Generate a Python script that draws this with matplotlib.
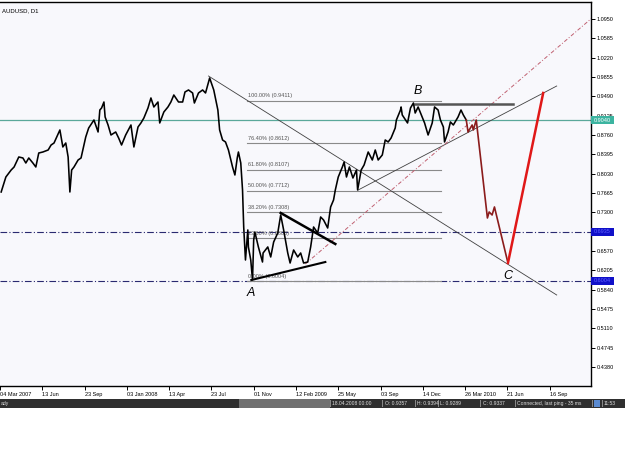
import matplotlib
matplotlib.use("Agg")
import matplotlib.pyplot as plt
from matplotlib.patches import Rectangle
from matplotlib.transforms import blended_transform_factory

plt.rcParams["font.family"] = ["Liberation Sans", "DejaVu Sans"]

# ---------------- data ----------------
symbol_title = "AUDUSD, D1"

bar_index = [2, 10, 19, 24, 32, 39, 44, 49, 56, 61, 66, 73, 82, 87, 92, 102, 107, 112, 116, 119,
             122, 126, 133, 138, 141, 146, 151, 160, 167, 170, 173, 177, 179, 184, 189, 197, 202, 207,
             214, 223, 228, 235, 240, 245, 252, 257, 262, 269, 272, 279, 286, 291, 296, 304, 311, 315,
             321, 328, 331, 338, 345, 350, 357, 364, 371, 374, 379, 384, 389, 396, 400, 404, 406, 410,
             413, 415, 418, 422, 423, 427, 430, 432, 434, 440, 447, 448, 456, 461, 466, 473, 478, 483,
             490, 494, 500, 507, 512, 517, 524, 529, 534, 541, 546, 551, 558, 563, 568, 571, 576, 583,
             586, 590, 595, 601, 607, 609, 615, 620, 627, 634, 639, 644, 651, 656, 661, 666, 673, 675,
             682, 683, 685, 694, 699, 704, 707, 712, 719, 723, 729, 736, 740, 746, 750, 755, 757, 763,
             767, 772, 780, 785, 789, 794]
close_price = [0.7684, 0.7967, 0.8099, 0.8156, 0.8345, 0.8326, 0.8231, 0.8326, 0.8231, 0.8156, 0.8420,
               0.8439, 0.8477, 0.8571, 0.8609, 0.8855, 0.8534, 0.8609, 0.8345, 0.7684, 0.8099, 0.8156,
               0.8288, 0.8326, 0.8477, 0.8722, 0.8892, 0.9043, 0.8817, 0.9232, 0.9270, 0.9383, 0.9100,
               0.8949, 0.8760, 0.8817, 0.8704, 0.8571, 0.8760, 0.8949, 0.8534, 0.8911, 0.8987, 0.9081,
               0.9270, 0.9459, 0.9289, 0.9383, 0.8987, 0.9194, 0.9289, 0.9383, 0.9515, 0.9383, 0.9383,
               0.9572, 0.9610, 0.9553, 0.9364, 0.9553, 0.9610, 0.9553, 0.9836, 0.9610, 0.9232, 0.8855,
               0.8666, 0.8628, 0.8477, 0.8156, 0.8005, 0.8326, 0.8439, 0.8231, 0.7722, 0.7023, 0.6400,
               0.6967, 0.6646, 0.6400, 0.6022, 0.6778, 0.6929, 0.6646, 0.6362, 0.6532, 0.6646, 0.6457,
               0.6740, 0.6910, 0.7250, 0.6967, 0.6532, 0.6343, 0.6589, 0.6457, 0.6532, 0.6343, 0.6362,
               0.6646, 0.7023, 0.6910, 0.7212, 0.7155, 0.7004, 0.7401, 0.7533, 0.7722, 0.7967, 0.8156,
               0.8250, 0.7967, 0.8156, 0.7948, 0.8099, 0.7722, 0.8099, 0.8194, 0.8439, 0.8288, 0.8477,
               0.8288, 0.8383, 0.8666, 0.8628, 0.8704, 0.8892, 0.9043, 0.9232, 0.9289, 0.9138, 0.8987,
               0.9270, 0.9364, 0.9175, 0.9289, 0.9100, 0.8987, 0.8760, 0.8987, 0.9289, 0.9232, 0.9043,
               0.8911, 0.8628, 0.8817, 0.9006, 0.8949, 0.9100, 0.9232, 0.9138, 0.9043]

# projected path (dark red down legs, bright red up leg)
proj_down_bars = [794, 797, 804, 806, 811, 830, 833, 838, 842, 865]
proj_down_price = [0.9043, 0.8817, 0.8949, 0.8855, 0.9043, 0.7193, 0.7306, 0.7250, 0.7401, 0.6343]
proj_up_bars = [865, 925]
proj_up_price = [0.6343, 0.9553]

# Fibonacci retracement
fib_labels = ["100.00%", "76.40%", "61.80%", "50.00%", "38.20%", "23.60%", "0.00%"]
fib_values = [0.9411, 0.8612, 0.8107, 0.7712, 0.7308, 0.6808, 0.6004]
fib_span = [420, 751]

# trend lines (bar, price) pairs
trend_down = ([355, 948], [0.9874, 0.5739])
trend_up = ([610, 948], [0.7722, 0.9685])
trend_dashdot = ([520, 1008], [0.6325, 1.0969])
tri_upper = ([478, 571], [0.7288, 0.6702])
tri_lower = ([428, 554], [0.6022, 0.6362])
b_top = ([707, 874], [0.9345, 0.9345])

# horizontal levels
teal_level = 0.9040
blue_levels = [0.6935, 0.6004]

# wave labels
wave_names = ["A", "B", "C"]
wave_bars = [427, 712, 865]
wave_prices = [0.5776, 0.9591, 0.6098]

# axes ticks
price_ticks = [1.0950, 1.0585, 1.0220, 0.9855, 0.9490, 0.9125, 0.8760, 0.8395, 0.8030, 0.7665,
               0.7300, 0.6935, 0.6570, 0.6205, 0.5840, 0.5475, 0.5110, 0.4745, 0.4380]
date_ticks = [0, 72, 144, 216, 288, 360, 432, 504, 576, 648, 720, 792, 864, 936]
date_labels = ["04 Mar 2007", "13 Jun", "23 Sep", "03 Jan 2008", "13 Apr", "23 Jul", "01 Nov",
               "12 Feb 2009", "25 May", "03 Sep", "14 Dec", "26 Mar 2010", "21 Jun", "16 Sep"]

status_texts = ["ady", "18.04.2008 00:00", "O: 0.9357", "H: 0.9394", "L: 0.9289", "C: 0.9337",
                "Connected, last ping - 35 ms", "11:53"]

# ---------------- figure ----------------
W, H = 625, 469
fig = plt.figure(figsize=(W / 100, H / 100), dpi=100)
fig.patch.set_facecolor("white")
FS = 4.0

def fx(px):
    return px / W

def fy(py):
    return 1 - py / H

ax = fig.add_axes([fx(0), fy(386), fx(591), (386 - 2) / H])
ax.set_facecolor("#f8f8fc")
ax.set_xlim(1.7, 1006.4)
ax.set_ylim(0.4021, 1.1271)

for s in ["top", "right", "bottom"]:
    ax.spines[s].set_color("black")
    ax.spines[s].set_linewidth(1.0)
ax.spines["left"].set_visible(False)

# horizontal levels
ax.axhline(teal_level, color="#5aa89a", lw=0.9, zorder=2)
for lv in blue_levels:
    ax.axhline(lv, color="#2a2a70", lw=0.8, ls=(0, (6, 2, 1, 2)), zorder=2)

# fib lines
for lab, val in zip(fib_labels, fib_values):
    ax.plot(fib_span, [val, val], color="#8a8a8a", lw=0.8, zorder=2)
    ax.text(fib_span[0] + 3, val + 0.004, f"{lab} ({val:.4f})", fontsize=FS,
            color="#555555", ha="left", va="bottom", zorder=3)

# trend lines
ax.plot(*trend_down, color="#404040", lw=0.6, zorder=3)
ax.plot(*trend_up, color="#404040", lw=0.6, zorder=3)
ax.plot(*trend_dashdot, color="#c06070", lw=0.7, ls=(0, (4, 2, 1, 2)), zorder=3)
ax.plot(*tri_upper, color="black", lw=1.8, zorder=4)
ax.plot(*tri_lower, color="black", lw=1.5, zorder=4)
ax.plot(*b_top, color="#555555", lw=1.8, zorder=4)

# price
ax.plot(bar_index, close_price, color="black", lw=1.15, zorder=5)

# projection
ax.plot(proj_down_bars, proj_down_price, color="#8b1c1c", lw=1.2, zorder=5)
ax.plot(proj_up_bars, proj_up_price, color="#e01818", lw=1.8, zorder=5)

# wave labels
for n, b, p in zip(wave_names, wave_bars, wave_prices):
    ax.text(b, p, n, fontsize=9, style="italic", ha="center", va="center", color="black", zorder=6)

# title
ax.text(fx(2) / fx(591), 1 - 6 / 384, symbol_title, transform=ax.transAxes, fontsize=4.3,
        ha="left", va="top", color="black")

# ticks (0.6935 label hidden behind the blue price box, as in the reference)
ax.yaxis.tick_right()
ax.set_yticks(price_ticks)
ax.set_yticklabels(["" if abs(p - blue_levels[0]) < 1e-6 else f"{p:.4f}" for p in price_ticks])
ax.tick_params(axis="y", labelsize=FS, length=3, width=0.7, pad=1, colors="black")
ax.set_xticks(date_ticks)
ax.set_xticklabels(date_labels)
ax.tick_params(axis="x", labelsize=FS, length=3, width=0.7, pad=1.5, colors="black")
for lbl in ax.get_xticklabels():
    lbl.set_horizontalalignment("left")

# price boxes on the axis
tr = blended_transform_factory(ax.transAxes, ax.transData)
box_w = 23 / 591
box_h = 0.0151
ax.add_patch(Rectangle((1.0, teal_level - box_h / 2), box_w, box_h, transform=tr,
                       facecolor="#3cb4a0", edgecolor="none", clip_on=False, zorder=7))
ax.text(1.0 + 3 / 591, teal_level, f"{teal_level:.4f}", transform=tr, fontsize=FS,
        color="white", ha="left", va="center", zorder=8, clip_on=False)
for lv in blue_levels:
    ax.add_patch(Rectangle((1.0, lv - box_h / 2), box_w, box_h, transform=tr,
                           facecolor="#1010c8", edgecolor="none", clip_on=False, zorder=7))
    ax.text(1.0 + 3 / 591, lv, f"{lv:.4f}", transform=tr, fontsize=FS,
            color="#6060ff", ha="left", va="center", zorder=8, clip_on=False)

# status bar
SFS = 3.6
fig.patches.append(Rectangle((fx(0), fy(408)), fx(625), 9 / H, transform=fig.transFigure,
                             facecolor="#2f2f2f", edgecolor="none", zorder=0))
fig.patches.append(Rectangle((fx(239), fy(408)), fx(91), 9 / H, transform=fig.transFigure,
                             facecolor="#707070", edgecolor="none", zorder=1))
status_x = [1, 332, 385, 417, 440, 483, 517, 604]
for t, x in zip(status_texts, status_x):
    fig.text(fx(x), fy(403.5), t, fontsize=SFS, color="#dddddd", ha="left", va="center")
for x in [330, 382, 415, 438, 480, 515, 592, 602]:
    fig.patches.append(Rectangle((fx(x), fy(407)), 1 / W, 7 / H, transform=fig.transFigure,
                                 facecolor="#888888", edgecolor="none", zorder=2))
fig.patches.append(Rectangle((fx(594), fy(407)), 6 / W, 7 / H, transform=fig.transFigure,
                             facecolor="#5a8ad0", edgecolor="none", zorder=2))

fig.savefig("out.png", dpi=100)
